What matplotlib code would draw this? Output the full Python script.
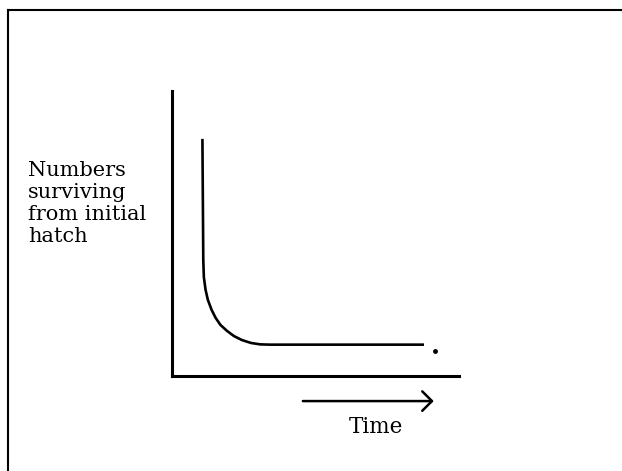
import matplotlib
matplotlib.use('Agg')
import matplotlib.pyplot as plt
from matplotlib.lines import Line2D

# Survivorship curve (axes scaled 0-100, no units)
time = [10.6, 10.9, 11.1, 11.7, 12.5, 13.8, 15.2, 16.9, 19.2, 21.6,
        24.4, 27.5, 30.7, 34.1, 41.1, 87.8]
numbers = [83.2, 40.7, 34.7, 30.2, 26.7, 23.2, 20.4, 17.9, 15.8, 14.0,
           12.6, 11.6, 11.1, 11.0, 11.0, 11.0]
end_dot = (91.6, 8.8)

y_label = 'Numbers\nsurviving\nfrom initial\nhatch'
x_label = 'Time'

plt.rcParams['font.family'] = ['DejaVu Serif']

fig = plt.figure(figsize=(6.22, 4.71), dpi=100)
fig.patch.set_facecolor('white')

# page frame (top and left edges of the scanned box)
fig.add_artist(Line2D([8 / 622, 8 / 622], [0, 1 - 10 / 471], transform=fig.transFigure,
                      color='black', lw=1.5))
fig.add_artist(Line2D([8 / 622, 1], [1 - 10 / 471, 1 - 10 / 471], transform=fig.transFigure,
                      color='black', lw=1.5))

ax = fig.add_axes([172 / 622, 95 / 471, 287 / 622, 285 / 471])
ax.plot(time, numbers, color='black', lw=1.9, solid_capstyle='butt',
        solid_joinstyle='round')
ax.plot([end_dot[0]], [end_dot[1]], 'o', color='black', ms=2.5)

ax.set_xlim(0, 100)
ax.set_ylim(0, 100)
for side in ['top', 'right']:
    ax.spines[side].set_visible(False)
for side in ['left', 'bottom']:
    ax.spines[side].set_linewidth(2.2)
ax.set_xticks([])
ax.set_yticks([])

# time arrow under the axis
ax.annotate('', xy=(91.2, -8.8), xytext=(45.6, -8.8), annotation_clip=False,
            arrowprops=dict(arrowstyle='->, head_length=0.35, head_width=0.35',
                            mutation_scale=20, color='black', lw=1.8,
                            shrinkA=0, shrinkB=0))
ax.text(71.1, -20.0, x_label, ha='center', va='baseline', fontsize=15.5, clip_on=False)

fig.text(28 / 622, 1 - 161 / 471, y_label, ha='left', va='top', fontsize=15,
         linespacing=1.2)

fig.savefig('out.png', dpi=100)
